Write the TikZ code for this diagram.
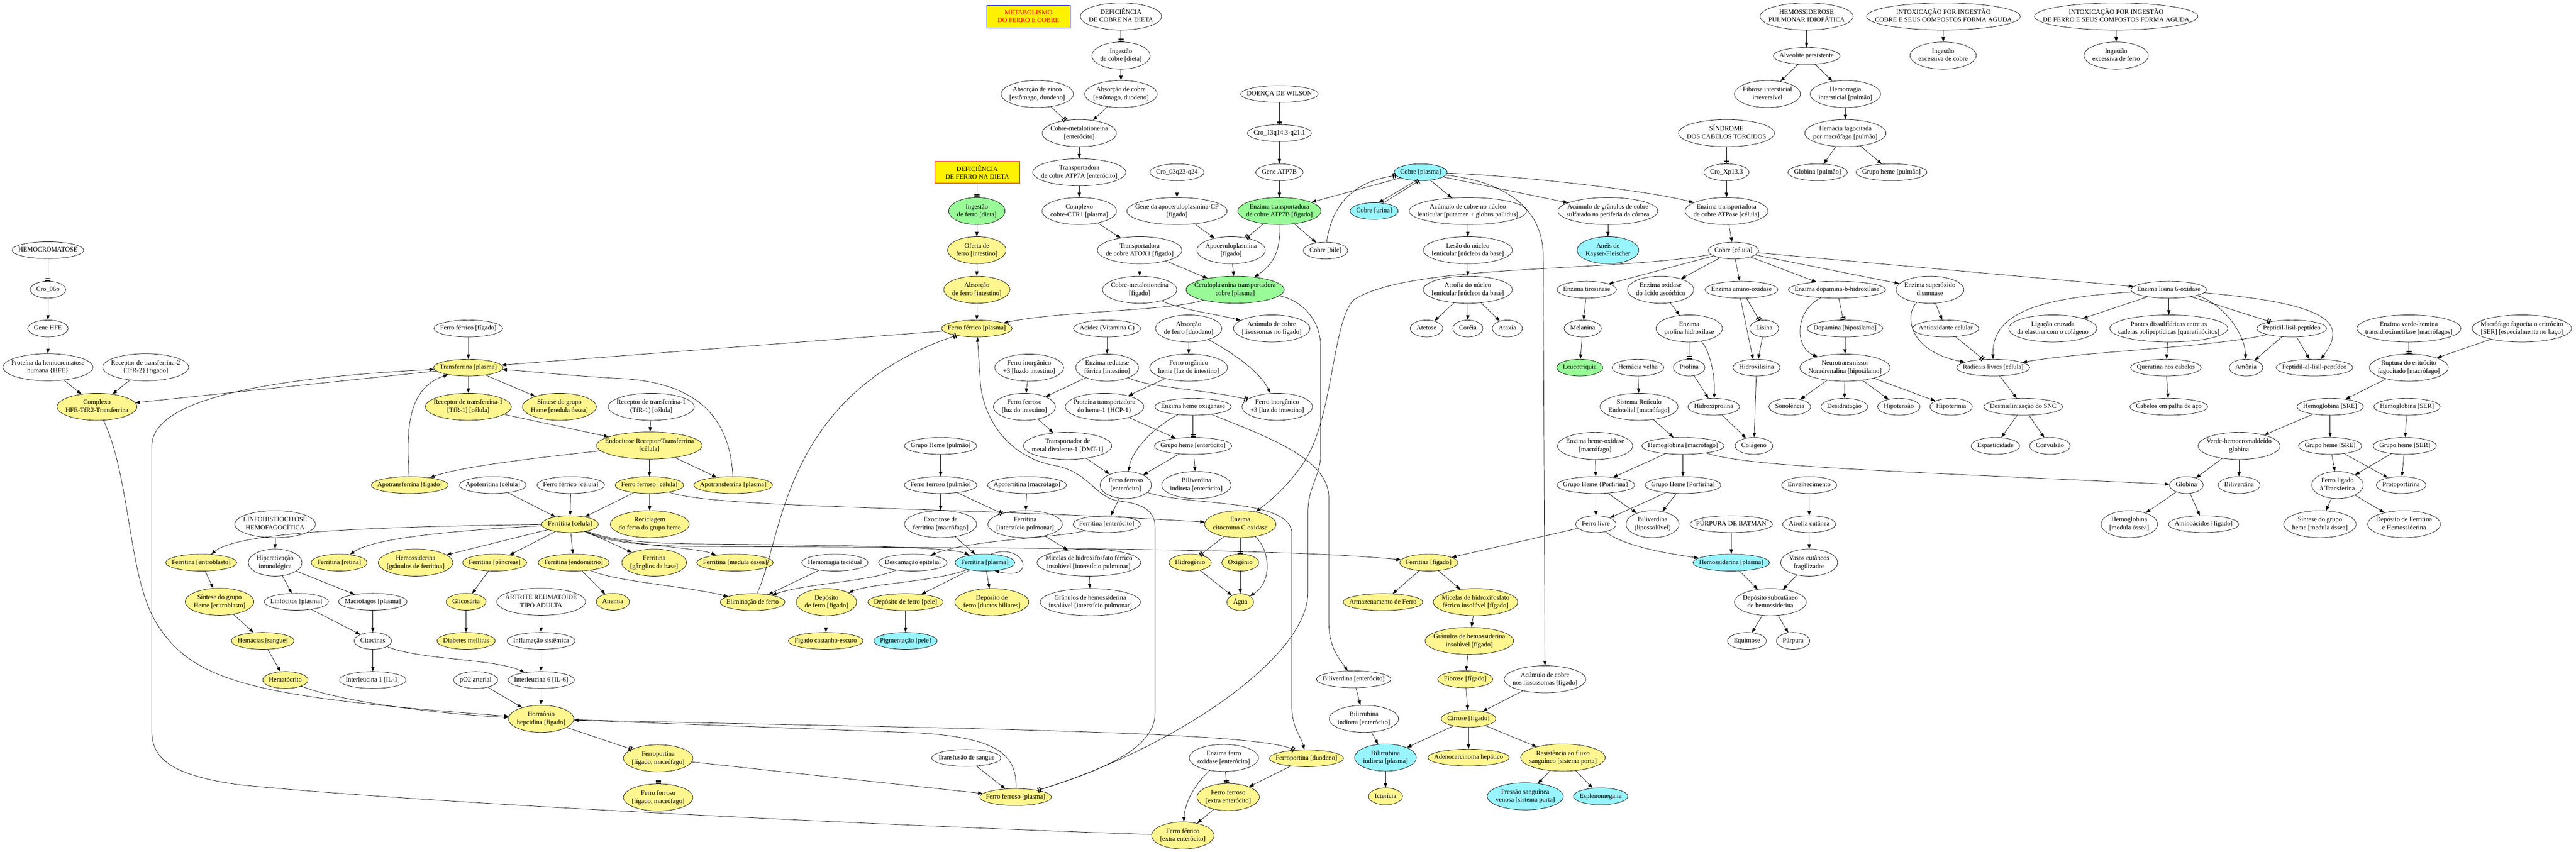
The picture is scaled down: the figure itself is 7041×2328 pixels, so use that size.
\documentclass[tikz,border=0pt]{standalone}
\usepackage{fontspec}
\setmainfont{Liberation Serif}
\usetikzlibrary{arrows.meta,shapes.geometric,positioning}
\definecolor{amarelo}{HTML}{FFF68F}
\definecolor{verde}{HTML}{98FB98}
\definecolor{ciano}{HTML}{98F5FF}
\font\fontemed="Liberation Serif" at 9pt
\newcommand\fonte{\fontsize{9}{11}\selectfont\fontemed}
\newbox\caixano
\newdimen\largno
\newdimen\altno
\tikzset{
  elip/.style  = { draw, ellipse, inner sep=0pt },
  am/.style    = { fill=amarelo },
  vd/.style    = { fill=verde },
  az/.style    = { fill=ciano },
  caixa/.style = { draw, rectangle, inner sep=2pt, align=center, font=\fonte },
  seta/.style  = { -{Triangle[length=6.4pt,width=4.6pt]} },
  barra/.style = { -{Rectangle[length=1.5pt,width=7pt,sep=1.2pt]Rectangle[length=1.5pt,width=7pt]} }
}
% \no[style]{name}{x,y}{text}: ellipse as wide as the text plus a margin
\newcommand\no[4][]{%
  \setbox\caixano=\hbox{\fonte\begin{tabular}{@{}c@{}}#4\end{tabular}}%
  \largno=\wd\caixano
  \ifdim\dimexpr\ht\caixano+\dp\caixano\relax>15pt
    \advance\largno by 23pt \altno=37pt
  \else
    \advance\largno by 17pt \altno=23pt
  \fi
  \ifdim\largno<34.5pt \largno=34.5pt\fi
  \node[elip,#1,minimum width=\the\largno,minimum height=\the\altno] (#2) at (#3)
    {\hbox to 0pt{\hss\vbox to 0pt{\vss\copy\caixano\vss}\hss}};}

\begin{document}
\begin{tikzpicture}[x=0.5pt,y=-0.5pt,line width=0.5pt]
  \path[use as bounding box,fill=white] (0,0) rectangle (7041,2328);
  % titulos
  \node[caixa,fill=yellow,draw=blue,text=red,minimum width=114pt,minimum height=31pt] (titulo) at (2811,45) {METABOLISMO\\DO FERRO E COBRE};
  \node[caixa,fill=yellow,draw=red,minimum width=116pt,minimum height=30pt] (deffe) at (2671,471) {DEFICIÊNCIA\\DE FERRO NA DIETA};
  % hemocromatose
  \no{hemocro}{131,684}{HEMOCROMATOSE}
  \no{cro06}{131,792}{Cro\_06p}
  \no{genehfe}{131,898}{Gene HFE}
  \no{prothfe}{131,1004}{Proteína da hemocromatose\\humana \{HFE\}}
  \no{tfr2}{398,1004}{Receptor de transferrina-2\\\{TfR-2\} [fígado]}
  \no[am]{complhfe}{265,1112}{Complexo\\HFE-TfR2-Transferrina}
  % cobre
  \no{defcu}{3064,45}{DEFICIÊNCIA\\DE COBRE NA DIETA}
  \no{ingcu}{3064,152}{Ingestão\\de cobre [dieta]}
  \no{abszn}{2835,257}{Absorção de zinco\\{}[estômago, duodeno]}
  \no{abscu}{3064,257}{Absorção de cobre\\{}[estômago, duodeno]}
  \no{cumtent}{2950,364}{Cobre-metalotioneína\\{}[enterócito]}
  \no{atp7a}{2950,471}{Transportadora\\de cobre ATP7A [enterócito]}
  \no{ctr1}{2950,577}{Complexo\\cobre-CTR1 [plasma]}
  \no{cro03}{3217,471}{Cro\_03q23-q24}
  \no{genecp}{3217,577}{Gene da apoceruloplasmina-CP\\{}[fígado]}
  \no{wilson}{3497,257}{DOENÇA DE WILSON}
  \no{cro13}{3497,364}{Cro\_13q14.3-q21.1}
  \no{geneatp}{3497,471}{Gene ATP7B}
  \no[vd]{atp7b}{3497,577}{Enzima transportadora\\de cobre ATP7B [fígado]}
  \no[vd]{ingfe}{2670,577}{Ingestão\\de ferro [dieta]}
  \no[am]{oferta}{2670,684}{Oferta de\\ferro [intestino]}
  \no[am]{absint}{2670,792}{Absorção\\de ferro [intestino]}
  \no{atox1}{3115,684}{Transportadora\\de cobre ATOX1 [fígado]}
  \no{apocp}{3365,684}{Apoceruloplasmina\\{}[fígado]}
  \no{cumtfig}{3115,792}{Cobre-metalotioneína\\{}[fígado]}
  \no[vd]{cerulo}{3376,792}{Ceruloplasmina transportadora\\cobre [plasma]}
  % topo direito
  \no{hemosid}{4938,45}{HEMOSSIDEROSE\\PULMONAR IDIOPÁTICA}
  \no{intoxcu}{5312,45}{INTOXICAÇÃO POR INGESTÃO\\COBRE E SEUS COMPOSTOS FORMA AGUDA}
  \no{ingexcu}{5311,152}{Ingestão\\excessiva de cobre}
  \no{intoxfe}{5784,45}{INTOXICAÇÃO POR INGESTÃO\\DE FERRO E SEUS COMPOSTOS FORMA AGUDA}
  \no{ingexfe}{5784,152}{Ingestão\\excessiva de ferro}
  \no{alveol}{4938,153}{Alveolite persistente}
  \no{fibint}{4831,257}{Fibrose intersticial\\irreversível}
  \no{hemorint}{5044,257}{Hemorragia\\intersticial [pulmão]}
  \no{hemfag}{5044,364}{Hemácia fagocitada\\por macrófago [pulmão]}
  \no{globpul}{4968,471}{Globina [pulmão]}
  \no{hemepul}{5170,471}{Grupo heme [pulmão]}
  \no{sindcab}{4719,364}{SÍNDROME\\DOS CABELOS TORCIDOS}
  \no{croxp}{4719,471}{Cro\_Xp13.3}
  \no{atpase}{4719,577}{Enzima transportadora\\de cobre ATPase [célula]}
  \no[az]{cupla}{3883,471}{Cobre [plasma]}
  \no[az]{cuuri}{3756,577}{Cobre [urina]}
  \no{acumlent}{4012,577}{Acúmulo de cobre no núcleo\\lenticular [putamen + globus pallidus]}
  \no{acumcorn}{4395,577}{Acúmulo de grânulos de cobre\\sulfatado na periferia da córnea}
  \no{cubile}{3623,685}{Cobre [bile]}
  \no{lesao}{4012,684}{Lesão do núcleo\\lenticular [núcleos da base]}
  \no[az]{aneis}{4395,684}{Anéis de\\Kayser-Fleischer}
  \no{cucel}{4738,685}{Cobre [célula]}
  % enzimas do cobre
  \no{atrofia}{4012,792}{Atrofia do núcleo\\lenticular [núcleos da base]}
  \no{tirosin}{4337,792}{Enzima tirosinase}
  \no{oxasc}{4539,792}{Enzima oxidase\\do ácido ascórbico}
  \no{aminox}{4760,792}{Enzima amino-oxidase}
  \no{dopbh}{5021,792}{Enzima dopamina-b-hidroxilase}
  \no{superox}{5275,792}{Enzima superóxido\\dismutase}
  \no{lisox}{5928,792}{Enzima lisina 6-oxidase}
  \no{atetose}{3899,898}{Atetose}
  \no{coreia}{4012,898}{Coréia}
  \no{ataxia}{4120,898}{Ataxia}
  \no{melanina}{4326,898}{Melanina}
  \no{prolhid}{4617,898}{Enzima\\prolina hidroxilase}
  \no{lisina}{4822,898}{Lisina}
  \no{dopam}{5043,898}{Dopamina [hipotálamo]}
  \no{antiox}{5318,898}{Antioxidante celular}
  \no{ligcruz}{5611,898}{Ligação cruzada\\da elastina com o colágeno}
  \no{pontes}{5928,898}{Pontes dissulfídricas entre as\\cadeias polipeptídicas [queratinócitos]}
  \no{peptidil}{6264,898}{Peptidil-lisil-peptídeo}
  \no{verdehem}{6584,898}{Enzima verde-hemina\\transidroximetilase [macrófagos]}
  \no{macrofag}{6893,898}{Macrófago fagocita o eritrócito\\{}[SER] [especialmente no baço]}
  \no[vd]{leuco}{4318,1005}{Leucotriquia}
  \no{hemvelha}{4477,1005}{Hemácia velha}
  \no{prolina}{4617,1005}{Prolina}
  \no{hidroxil}{4801,1005}{Hidroxilisina}
  \no{noradr}{5043,1005}{Neurotransmissor\\Noradrenalina [hipotálamo]}
  \no{radicais}{5448,1005}{Radicais livres [célula]}
  \no{queratina}{5920,1005}{Queratina nos cabelos}
  \no{amonia}{6139,1005}{Amônia}
  \no{peptal}{6326,1005}{Peptidil-al-lisil-peptídeo}
  \no{ruptura}{6584,1005}{Ruptura do eritrócito\\fagocitado [macrófago]}
  \no{sre}{4480,1112}{Sistema Retículo\\Endotelial [macrófago]}
  \no{hidroxpro}{4684,1112}{Hidroxiprolina}
  \no{sonol}{4892,1112}{Sonolência}
  \no{desid}{5041,1112}{Desidratação}
  \no{hipoten}{5190,1112}{Hipotensão}
  \no{hipoterm}{5333,1112}{Hipotermia}
  \no{desmiel}{5530,1112}{Desmielinização do SNC}
  \no{cabelos}{5928,1112}{Cabelos em palha de aço}
  \no{hbsre}{6369,1112}{Hemoglobina [SRE]}
  \no{hbser}{6579,1112}{Hemoglobina [SER]}
  \no{colageno}{4794,1219}{Colágeno}
  \no{hemeoxd}{4360,1219}{Enzima heme-oxidase\\{}[macrófago]}
  \no{hbmac}{4600,1219}{Hemoglobina [macrófago]}
  \no{espast}{5454,1219}{Espasticidade}
  \no{convul}{5603,1219}{Convulsão}
  \no{verdehc}{6120,1219}{Verde-hemocromaldeído\\globina}
  \no{hemesre}{6369,1219}{Grupo heme [SRE]}
  \no{hemeser}{6573,1219}{Grupo heme [SER]}
  \no{hemeporf1}{4362,1326}{Grupo Heme \{Porfirina\}}
  \no{hemeporf2}{4600,1326}{Grupo Heme [Porfirina]}
  \no{envelh}{4945,1326}{Envelhecimento}
  \no{globina}{5976,1326}{Globina}
  \no{biliv}{6120,1326}{Biliverdina}
  \no{ferlig}{6389,1326}{Ferro ligado\\à Transferina}
  \no{protop}{6563,1326}{Protoporfirina}
  \no{ferlivre}{4362,1433}{Ferro livre}
  \no{bililip}{4517,1433}{Biliverdina\\(lipossolúvel)}
  \no{batman}{4732,1433}{PÚRPURA DE BATMAN}
  \no{atrofcut}{4945,1433}{Atrofia cutânea}
  \no{hbmed}{5820,1433}{Hemoglobina\\{}[medula óssea]}
  \no{aminoac}{6023,1433}{Aminoácidos [fígado]}
  \no{sinthmed}{6341,1433}{Síntese do grupo\\heme [medula óssea]}
  \no{depferr}{6571,1433}{Depósito de Ferritina\\e Hemossiderina}
  \no[am]{ferrfig}{3905,1538}{Ferritina [fígado]}
  \no[az]{hemospla}{4732,1538}{Hemossiderina [plasma]}
  \no{vasos}{4945,1538}{Vasos cutâneos\\fragilizados}
  \no[am]{armaz}{3780,1646}{Armazenamento de Ferro}
  \no[am]{micfig}{4033,1646}{Micelas de hidroxifosfato\\férrico insolúvel [fígado]}
  \no{depsub}{4839,1646}{Depósito subcutâneo\\de hemossiderina}
  \no[am]{granfig}{4016,1752}{Grânulos de hemossiderina\\insolúvel [fígado]}
  \no{equimose}{4775,1752}{Equimose}
  \no{purpura}{4901,1752}{Púrpura}
  \no{bilivent}{3700,1857}{Biliverdina [enterócito]}
  \no[am]{fibfig}{4005,1857}{Fibrose [fígado]}
  \no{acumliss}{4223,1857}{Acúmulo de cobre\\nos lissossomas [fígado]}
  \no{bilirent}{3728,1965}{Bilirrubina\\indireta [enterócito]}
  \no[am]{cirrose}{4014,1965}{Cirrose [fígado]}
  \no[az]{bilirpla}{3787,2071}{Bilirrubina\\indireta [plasma]}
  \no[am]{adeno}{4014,2071}{Adenocarcinoma hepático}
  \no[am]{resist}{4272,2071}{Resistência ao fluxo\\sanguíneo [sistema porta]}
  \no[am]{icter}{3787,2177}{Icterícia}
  \no[az]{pressao}{4169,2177}{Pressão sanguínea\\venosa [sistema porta]}
  \no[az]{esplen}{4375,2177}{Esplenomegalia}
  % ferro: plasma, celula, intestino
  \no{ferfig}{1280,898}{Ferro férrico [fígado]}
  \no[am]{ferpla}{2670,898}{Ferro férrico [plasma]}
  \no{acidez}{3026,898}{Acidez (Vitamina C)}
  \no{absduo}{3249,898}{Absorção\\de ferro [duodeno]}
  \no{acumlis}{3476,898}{Acúmulo de cobre\\{}[lisossomas no fígado]}
  \no[am]{transf}{1280,1005}{Transferrina [plasma]}
  \no{feinorg}{2813,1005}{Ferro inorgânico\\+3 [luzdo intestino]}
  \no{redutase}{3026,1005}{Enzima redutase\\férrica [intestino]}
  \no{feorg}{3249,1005}{Ferro orgânico\\heme [luz do intestino]}
  \no[am]{tfr1y}{1280,1112}{Receptor de transferrina-1\\{}[TfR-1] [célula]}
  \no[am]{sintmed}{1529,1112}{Síntese do grupo\\Heme [medula óssea]}
  \no{tfr1w}{1780,1112}{Receptor de transferrina-1\\(TfR-1) [célula]}
  \no{feferluz}{2800,1112}{Ferro ferroso\\{}[luz do intestino]}
  \no{hcp1}{3019,1112}{Proteína transportadora\\do heme-1 \{HCP-1\}}
  \no{hemeox}{3261,1112}{Enzima heme oxigenase}
  \no{feinorg2}{3491,1112}{Ferro inorgânico\\+3 [luz do intestino]}
  \no[am]{endoc}{1775,1218}{Endocitose Receptor/Transferrina\\{}[célula]}
  \no{hemepulm}{2571,1219}{Grupo Heme [pulmão]}
  \no{dmt1}{2918,1219}{Transportador de\\metal divalente-1 [DMT-1]}
  \no{hemeent}{3261,1219}{Grupo heme [enterócito]}
  \no[am]{apotfig}{1120,1326}{Apotransferrina [fígado]}
  \no{apoferc}{1347,1326}{Apoferritina [célula]}
  \no{ferfc}{1560,1326}{Ferro férrico [célula]}
  \no[am]{feferc}{1775,1326}{Ferro ferroso [célula]}
  \no[am]{apotpla}{2004,1326}{Apotransferrina [plasma]}
  \no{feferpul}{2571,1326}{Ferro ferroso [pulmão]}
  \no{apoferm}{2807,1326}{Apoferritina [macrófago]}
  \no{feferent}{3077,1326}{Ferro ferroso\\{}[enterócito]}
  \no{bilivind}{3270,1326}{Biliverdina\\indireta [enterócito]}
  \no{linfo}{752,1433}{LINFOHISTIOCITOSE\\HEMOFAGOCÍTICA}
  \no[am]{ferritc}{1558,1433}{Ferritina [célula]}
  \no[am]{recicl}{1776,1433}{Reciclagem\\do ferro do grupo heme}
  \no{exocit}{2571,1433}{Exocitose de\\ferritina [macrófago]}
  \no{ferrint}{2802,1433}{Ferritina\\{}[interstício pulmonar]}
  \no{ferrent}{3025,1433}{Ferritina [enterócito]}
  \no[am]{citocr}{3390,1433}{Enzima\\citocromo C oxidase}
  \no[am]{ferrerit}{550,1538}{Ferritina [eritroblasto]}
  \no{hiperat}{752,1538}{Hiperativação\\imunológica}
  \no[am]{ferret}{927,1538}{Ferritina [retina]}
  \no[am]{hemgran}{1136,1538}{Hemossiderina\\{}[grânulos de ferritina]}
  \no[am]{ferpanc}{1352,1538}{Ferritina [pâncreas]}
  \no[am]{ferendo}{1568,1538}{Ferritina [endométrio]}
  \no[am]{fergang}{1788,1538}{Ferritina\\{}[gânglios da base]}
  \no[am]{fermed}{2009,1538}{Ferritina [medula óssea]}
  \no{hemortec}{2282,1538}{Hemorragia tecidual}
  \no{descam}{2495,1538}{Descamação epitelial}
  \no[az]{ferrpla}{2692,1538}{Ferritina [plasma]}
  \no{micint}{2976,1538}{Micelas de hidroxifosfato férrico\\insolúvel [interstício pulmonar]}
  \no[am]{hidrog}{3253,1538}{Hidrogênio}
  \no[am]{oxig}{3390,1538}{Oxigênio}
  \no[am]{sinteri}{600,1645}{Síntese do grupo\\Heme [eritroblasto]}
  \no{linfoc}{810,1645}{Linfócitos [plasma]}
  \no{macrop}{1019,1645}{Macrófagos [plasma]}
  \no[am]{glicos}{1274,1645}{Glicosúria}
  \no{artrite}{1479,1645}{ARTRITE REUMATÓIDE\\TIPO ADULTA}
  \no[am]{anemia}{1675,1645}{Anemia}
  \no[am]{elimin}{2057,1646}{Eliminação de ferro}
  \no[am]{depfig}{2259,1646}{Depósito\\de ferro [fígado]}
  \no[am]{deppele}{2475,1646}{Depósito de ferro [pele]}
  \no[am]{depduct}{2711,1646}{Depósito de\\ferro [ductos biliares]}
  \no{granint}{2980,1646}{Grânulos de hemossiderina\\insolúvel [interstício pulmonar]}
  \no[am]{agua}{3390,1646}{Água}
  \no[am]{hemacias}{718,1752}{Hemácias [sangue]}
  \no{citocin}{1019,1752}{Citocinas}
  \no[am]{diabetes}{1274,1752}{Diabetes mellitus}
  \no{inflam}{1479,1752}{Inflamação sistêmica}
  \no[am]{figcast}{2257,1752}{Fígado castanho-escuro}
  \no[az]{pigment}{2475,1752}{Pigmentação [pele]}
  \no[am]{hematoc}{780,1859}{Hematócrito}
  \no{il1}{1019,1859}{Interleucina 1 [IL-1]}
  \no{po2}{1300,1859}{pO2 arterial}
  \no{il6}{1479,1859}{Interleucina 6 [IL-6]}
  \no[am]{hepcid}{1479,1965}{Hormônio\\hepcidina [fígado]}
  \no[am]{ferpfm}{1799,2073}{Ferroportina\\{}[fígado, macrófago]}
  \no{transfus}{2641,2072}{Transfusão de sangue}
  \no{enzfeox}{3345,2072}{Enzima ferro\\oxidase [enterócito]}
  \no[am]{ferpduo}{3571,2073}{Ferroportina [duodeno]}
  \no[am]{feferfm}{1799,2180}{Ferro ferroso\\{}[fígado, macrófago]}
  \no[am]{feferpla}{2776,2179}{Ferro ferroso [plasma]}
  \no[am]{feferext}{3357,2179}{Ferro ferroso\\{}[extra enterócito]}
  \no[am]{ferfext}{3233,2284}{Ferro férrico\\{}[extra enterócito]}

  % inibicoes
  \path[barra] (hemocro) edge (cro06)
    (defcu) edge (ingcu)
    (abszn) edge (cumtent)
    (wilson) edge (cro13)
    (deffe) edge (ingfe)
    (atp7b) edge (apocp)
    (sindcab) edge (croxp)
    (prolhid) edge (prolina)
    (aminox) edge (lisina)
    (dopbh) edge (dopam)
    (antiox) edge (radicais)
    (lisox) edge (peptidil)
    (verdehem) edge (ruptura)
    (hemeox) edge (hemeent)
    (feferpul) edge (ferrint)
    (citocr) edge (hidrog) edge (oxig)
    (hepcid) edge (ferpfm)
    (ferpfm) edge (feferfm)
    (enzfeox) edge (feferext)
    (cuuri.42) edge (cupla.258);
  \draw[barra] (cubile) .. controls (3640,560) and (3700,495) .. (cupla);
  \draw[barra] (redutase) .. controls (3140,1060) and (3300,1065) .. (feinorg2);
  \draw[barra] (elimin) .. controls (2140,1480) and (2130,1080) .. (ferpla);
  \draw[barra] (hepcid) .. controls (2400,1990) and (3450,1995) .. (ferpduo);
  \draw[barra] (cerulo) .. controls (3540,815) and (3610,860) .. (3610,950) -- (3610,1240)
    .. controls (3610,1300) and (3575,1330) .. (3575,1400) -- (3575,1620)
    .. controls (3575,1800) and (3200,2050) .. (feferpla);

  % setas retas
  \path[seta] (cro06) edge (genehfe)
    (genehfe) edge (prothfe)
    (prothfe) edge (complhfe)
    (tfr2) edge (complhfe)
    (transf) edge (complhfe) edge (tfr1y) edge (sintmed)
    (ferfig) edge (transf)
    (ferpla) edge (transf)
    (tfr1y) edge (endoc)
    (tfr1w) edge (endoc)
    (endoc) edge (feferc) edge (apotpla)
    (apoferc) edge (ferritc)
    (ferfc) edge (ferritc)
    (feferc) edge (ferritc) edge (recicl)
    (ferritc) edge (hemgran) edge (ferpanc) edge (ferendo) edge (fergang)
    (linfo) edge (hiperat)
    (hiperat) edge (linfoc) edge (macrop)
    (ferrerit) edge (sinteri)
    (sinteri) edge (hemacias)
    (hemacias) edge (hematoc)
    (linfoc) edge (citocin)
    (macrop) edge (citocin)
    (citocin) edge (il1)
    (ferpanc) edge (glicos)
    (glicos) edge (diabetes)
    (artrite) edge (inflam)
    (inflam) edge (il6)
    (il6) edge (hepcid)
    (po2) edge (hepcid)
    (ferendo) edge (anemia)
    (hemortec) edge (elimin)
    (ferrpla) edge (deppele) edge (depduct)
    (exocit) edge (ferrpla)
    (depfig) edge (figcast)
    (deppele) edge (pigment)
    (ferrint) edge (micint)
    (micint) edge (granint)
    (apoferm) edge (ferrint)
    (hemepulm) edge (feferpul)
    (feferpul) edge (exocit)
    (hidrog) edge (agua)
    (oxig) edge (agua)
    (acidez) edge (redutase)
    (redutase) edge (feferluz)
    (feinorg) edge (feferluz)
    (absduo) edge (feorg)
    (feorg) edge (hcp1)
    (hcp1) edge (hemeent)
    (feferluz) edge (dmt1)
    (dmt1) edge (feferent)
    (hemeent) edge (feferent) edge (bilivind)
    (feferent) edge (ferrent)
    (transfus) edge (feferpla)
    (ferpfm) edge (feferpla)
    (ferpduo) edge (feferext)
    (feferext) edge (ferfext)
    (ingcu) edge (abscu)
    (abscu) edge (cumtent)
    (cumtent) edge (atp7a)
    (atp7a) edge (ctr1)
    (ctr1) edge (atox1)
    (cro03) edge (genecp)
    (genecp) edge (apocp)
    (cro13) edge (geneatp)
    (geneatp) edge (atp7b)
    (atp7b) edge (cubile)
    (atox1) edge (cumtfig) edge (cerulo)
    (apocp) edge (cerulo)
    (ingfe) edge (oferta)
    (oferta) edge (absint)
    (absint) edge (ferpla)
    (cupla) edge (atp7b) edge (acumlent) edge (acumcorn)
    (cupla.240) edge (cuuri.62)
    (acumlent) edge (lesao)
    (lesao) edge (atrofia)
    (atrofia) edge (atetose) edge (coreia) edge (ataxia)
    (acumcorn) edge (aneis)
    (hemosid) edge (alveol)
    (alveol) edge (fibint) edge (hemorint)
    (hemorint) edge (hemfag)
    (hemfag) edge (globpul) edge (hemepul)
    (intoxcu) edge (ingexcu)
    (intoxfe) edge (ingexfe)
    (croxp) edge (atpase)
    (atpase) edge (cucel)
    (cucel) edge (tirosin) edge (oxasc) edge (aminox) edge (dopbh) edge (superox) edge (lisox)
    (tirosin) edge (melanina)
    (melanina) edge (leuco)
    (oxasc) edge (prolhid)
    (prolina) edge (hidroxpro)
    (aminox.-97) edge (hidroxil.112)
    (lisina) edge (hidroxil)
    (hidroxpro) edge (colageno)
    (hidroxil) edge (colageno)
    (dopam) edge (noradr)
    (noradr) edge (sonol) edge (desid) edge (hipoten) edge (hipoterm)
    (superox) edge (antiox)
    (radicais) edge (desmiel)
    (desmiel) edge (espast) edge (convul)
    (lisox) edge (ligcruz) edge (pontes)
    (pontes) edge (queratina)
    (queratina) edge (cabelos)
    (peptidil) edge (amonia) edge (peptal)
    (macrofag) edge (ruptura)
    (ruptura) edge (hbsre)
    (hbsre) edge (verdehc) edge (hemesre)
    (hbser) edge (hemeser)
    (verdehc) edge (globina) edge (biliv)
    (globina) edge (hbmed) edge (aminoac)
    (hemesre) edge (ferlig) edge (protop)
    (hemeser) edge (ferlig) edge (protop)
    (ferlig) edge (sinthmed) edge (depferr)
    (hemvelha) edge (sre)
    (sre) edge (hbmac)
    (hbmac) edge (hemeporf1) edge (hemeporf2)
    (hemeoxd) edge (hemeporf1)
    (hemeporf1) edge (ferlivre) edge (bililip)
    (hemeporf2) edge (ferlivre) edge (bililip)
    (ferlivre) edge (ferrfig)
    (batman) edge (hemospla)
    (envelh) edge (atrofcut)
    (atrofcut) edge (vasos)
    (vasos) edge (depsub)
    (hemospla) edge (depsub)
    (depsub) edge (equimose) edge (purpura)
    (ferrfig) edge (armaz) edge (micfig)
    (micfig) edge (granfig)
    (granfig) edge (fibfig)
    (fibfig) edge (cirrose)
    (acumliss) edge (cirrose)
    (cirrose) edge (bilirpla) edge (adeno) edge (resist)
    (resist) edge (pressao) edge (esplen)
    (bilivent) edge (bilirent)
    (bilirent) edge (bilirpla)
    (bilirpla) edge (icter);

  % setas curvas
  \draw[seta] (apotpla) .. controls (1995,1120) and (1880,1045) .. (1700,1035)
    .. controls (1550,1027) and (1450,1015) .. (transf);
  \draw[seta] (apotfig) .. controls (1108,1160) and (1120,1060) .. (transf);
  \draw[seta] (endoc) .. controls (1480,1250) and (1260,1275) .. (apotfig);
  \draw[seta] (complhfe) .. controls (355,1300) and (350,1560) .. (420,1690)
    .. controls (520,1870) and (700,1905) .. (hepcid);
  \draw[seta] (ferfext) .. controls (2500,2260) and (1200,2200) .. (650,2145)
    .. controls (480,2120) and (415,2080) .. (415,2000) -- (415,1220)
    .. controls (415,1120) and (600,1040) .. (transf);
  \draw[seta] (ferritc) .. controls (1660,1475) and (1750,1485) .. (1900,1487)
    .. controls (2300,1490) and (2600,1495) .. (ferrpla);
  \draw[seta] (ferritc) .. controls (1650,1480) and (1750,1492) .. (1900,1494)
    .. controls (2600,1497) and (3500,1497) .. (ferrfig);
  \draw[seta] (ferritc) .. controls (1680,1490) and (1900,1495) .. (fermed);
  \draw[seta] (ferritc) .. controls (1000,1440) and (650,1455) .. (ferrerit);
  \draw[seta] (ferritc) .. controls (1250,1450) and (1020,1470) .. (ferret);
  \draw[seta] (feferc) .. controls (1950,1390) and (2600,1385) .. (citocr);
  \draw[seta] (feferpla) .. controls (3000,2110) and (3157,2050) .. (3157,1950) -- (3157,1440)
    .. controls (3157,1390) and (3110,1375) .. (3060,1370)
    .. controls (2990,1360) and (2980,1290) .. (2880,1272)
    .. controls (2760,1250) and (2690,1150) .. (2680,1050) -- (ferpla);
  \draw[seta] (feferpla) .. controls (2781,2060) and (2720,2015) .. (2500,2003) -- (hepcid);
  \draw[seta] (hemeox) .. controls (3450,1190) and (3632,1250) .. (3632,1360) -- (3632,1700)
    .. controls (3632,1770) and (3660,1800) .. (bilivent);
  \draw[seta] (cucel) .. controls (4400,745) and (3850,720) .. (3700,820)
    .. controls (3640,880) and (3645,1150) .. (3560,1270)
    .. controls (3510,1340) and (3470,1370) .. (citocr);
  \draw[seta] (feferent) .. controls (3250,1385) and (3531,1360) .. (3531,1460) -- (3531,1930)
    .. controls (3531,1990) and (3555,2010) .. (ferpduo);
  \draw[seta] (cupla) .. controls (4100,495) and (4218,560) .. (4218,700) -- (acumliss);
  \draw[seta] (cupla) .. controls (4150,480) and (4500,520) .. (atpase);
  \draw[seta] (atp7b) .. controls (3500,680) and (3485,720) .. (cerulo);
  \draw[seta] (cerulo) .. controls (3200,850) and (2900,850) .. (ferpla);
  \draw[seta] (cumtfig) .. controls (3220,845) and (3330,860) .. (acumlis);
  \draw[seta] (absduo) .. controls (3360,960) and (3440,1010) .. (feinorg2);
  \draw[seta] (hemeox) .. controls (3150,1170) and (3095,1230) .. (feferent);
  \draw[seta] (citocr) .. controls (3470,1500) and (3480,1590) .. (agua);
  \draw[seta] (superox) .. controls (5205,860) and (5215,960) .. (radicais);
  \draw[seta] (dopbh) .. controls (4905,850) and (4905,950) .. (noradr);
  \draw[seta] (prolhid) .. controls (4675,960) and (4688,1030) .. (hidroxpro);
  \draw[seta] (lisox) .. controls (5560,815) and (5445,860) .. (radicais);
  \draw[seta] (lisox) .. controls (6060,820) and (6135,900) .. (amonia);
  \draw[seta] (lisox) .. controls (6360,830) and (6420,880) .. (peptal);
  \draw[seta] (peptidil) .. controls (6050,950) and (5700,960) .. (radicais);
  \draw[seta] (hbmac) .. controls (4780,1275) and (5100,1285) .. (globina);
  \draw[seta] (citocin) .. controls (1150,1805) and (1350,1800) .. (il6);
  \draw[seta] (hematoc) .. controls (950,1925) and (1250,1955) .. (hepcid);
  \draw[seta] (ferendo) .. controls (1680,1590) and (1860,1600) .. (elimin);
  \draw[seta] (descam) .. controls (2380,1590) and (2200,1595) .. (elimin);
  \draw[seta] (ferrpla) .. controls (2560,1590) and (2380,1595) .. (depfig);
  \draw[seta] (ferrpla.55) .. controls (2800,1480) and (2840,1590) .. (ferrpla.-40);
  \draw[seta] (ferrent) .. controls (2900,1470) and (2650,1475) .. (descam);
  \draw[seta] (ferlivre) .. controls (4440,1495) and (4570,1515) .. (hemospla);
  \draw[seta] (enzfeox) .. controls (3280,2130) and (3240,2180) .. (ferfext);
\end{tikzpicture}
\end{document}
